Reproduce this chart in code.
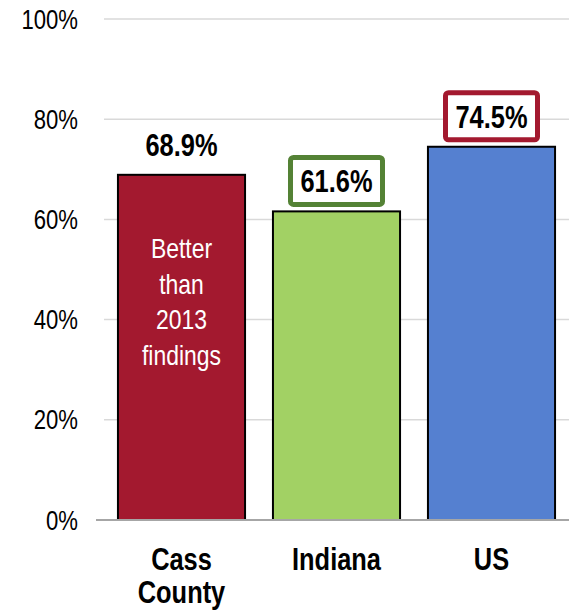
<!DOCTYPE html>
<html>
<head>
<meta charset="utf-8">
<script src="https://cdn.jsdelivr.net/npm/d3@7"></script>
<style>
  body { margin: 0; background: #fff; }
  svg text { font-family: "Liberation Sans", Arial, sans-serif; }
</style>
</head>
<body>
<div id="chart"></div>
<script>
// chart values
const categories = ["Cass County", "Indiana", "US"];
const categoryLines = [["Cass", "County"], ["Indiana"], ["US"]];
const values = [68.9, 61.6, 74.5];
const barColors = ["#a3192f", "#a2d164", "#5580d0"];
const boxColors = [null, "#548235", "#a3192f"];
const yTicks = [0, 20, 40, 60, 80, 100];
const noteLines = ["Better", "than", "2013", "findings"];

const width = 569, height = 611;
const margin = { top: 19, right: 0, bottom: 91, left: 104 };
const narrow = 0.82; // squeeze text to look like Arial Narrow

const svg = d3
  .select("#chart")
  .append("svg")
  .attr("width", width)
  .attr("height", height);

const x = d3
  .scaleBand()
  .domain(categories)
  .range([margin.left, width - margin.right])
  .paddingInner(0.18)
  .paddingOuter(0.09);

const y = d3
  .scaleLinear()
  .domain([0, 100])
  .range([height - margin.bottom, margin.top]);

const cx = (i) => x(categories[i]) + x.bandwidth() / 2;

// gridlines
svg
  .append("g")
  .selectAll("line")
  .data(yTicks.filter((d) => d > 0))
  .join("line")
  .attr("x1", margin.left)
  .attr("x2", width)
  .attr("y1", (d) => y(d))
  .attr("y2", (d) => y(d))
  .attr("stroke", "#d9d9d9")
  .attr("stroke-width", 1.5);

// y axis labels
svg
  .append("g")
  .selectAll("text")
  .data(yTicks)
  .join("text")
  .attr("transform", (d) => `translate(${margin.left - 26},${y(d) + 9.5}) scale(${narrow},1)`)
  .attr("text-anchor", "end")
  .style("font-size", "27px")
  .text((d) => d + "%");

// bars
svg
  .append("g")
  .selectAll("rect")
  .data(values)
  .join("rect")
  .attr("x", (d, i) => x(categories[i]))
  .attr("y", (d) => y(d))
  .attr("width", x.bandwidth())
  .attr("height", (d) => y(0) - y(d))
  .attr("fill", (d, i) => barColors[i])
  .attr("stroke", "#000")
  .attr("stroke-width", 2);

// zero line
svg
  .append("line")
  .attr("x1", margin.left - 8)
  .attr("x2", width)
  .attr("y1", y(0))
  .attr("y2", y(0))
  .attr("stroke", "#a6a6a6")
  .attr("stroke-width", 2);

// value labels with optional boxes
const labels = svg
  .append("g")
  .selectAll("g")
  .data(values)
  .join("g")
  .attr("transform", (d, i) => `translate(${cx(i)},${y(d) - 19})`);

labels
  .filter((d, i) => boxColors[i])
  .append("rect")
  .attr("x", -46)
  .attr("y", -35)
  .attr("width", 92)
  .attr("height", 47)
  .attr("rx", 3)
  .attr("fill", "#fff")
  .attr("stroke", (d) => boxColors[values.indexOf(d)])
  .attr("stroke-width", 5);

labels
  .append("text")
  .attr("transform", `scale(${narrow},1)`)
  .attr("text-anchor", "middle")
  .style("font-size", "31px")
  .style("font-weight", "bold")
  .text((d) => d.toFixed(1) + "%");

// note inside first bar
svg
  .append("g")
  .selectAll("text")
  .data(noteLines)
  .join("text")
  .attr("transform", (d, i) => `translate(${cx(0)},${258 + i * 35.5}) scale(${narrow},1)`)
  .attr("text-anchor", "middle")
  .attr("fill", "#fff")
  .style("font-size", "28px")
  .text((d) => d);

// category labels
svg
  .append("g")
  .selectAll("text")
  .data(categoryLines.flatMap((lines, i) => lines.map((t, j) => ({ t, i, j }))))
  .join("text")
  .attr("transform", (d) => `translate(${cx(d.i)},${570 + d.j * 33}) scale(${narrow},1)`)
  .attr("text-anchor", "middle")
  .style("font-size", "31px")
  .style("font-weight", "bold")
  .text((d) => d.t);
</script>
</body>
</html>
